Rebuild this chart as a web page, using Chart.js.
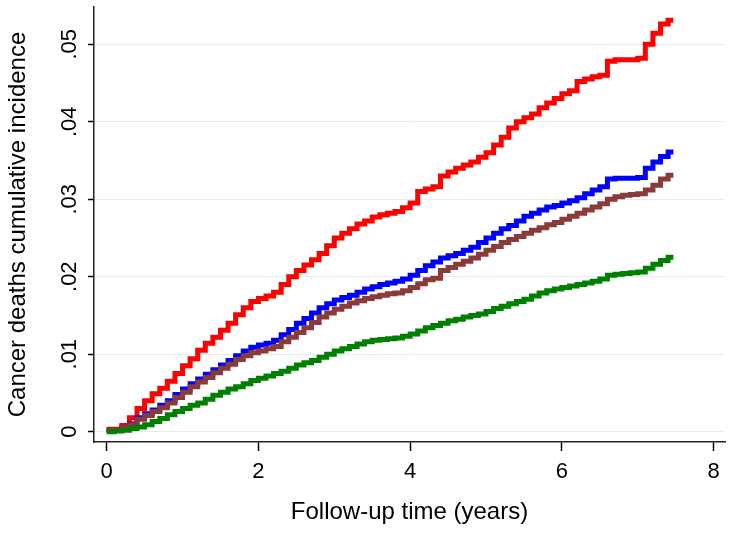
<!DOCTYPE html>
<html>
<head>
<meta charset="utf-8">
<script src="https://cdn.jsdelivr.net/npm/chart.js@4"></script>
<style>
  html, body { margin: 0; padding: 0; background: #ffffff; }
  #wrap { width: 734px; height: 534px; }
</style>
</head>
<body>
<div id="wrap"><canvas id="c" width="734" height="534"></canvas></div>
<script>
// Follow-up time (years) at which values were read (last = end of follow-up)
const times = [0.0, 0.1, 0.2, 0.3, 0.4, 0.5, 0.6, 0.7, 0.8, 0.9,
  1.0, 1.1, 1.2, 1.3, 1.4, 1.5, 1.6, 1.7, 1.8, 1.9,
  2.0, 2.1, 2.2, 2.3, 2.4, 2.5, 2.6, 2.7, 2.8, 2.9,
  3.0, 3.1, 3.2, 3.3, 3.4, 3.5, 3.6, 3.7, 3.8, 3.9,
  4.0, 4.1, 4.2, 4.3, 4.4, 4.5, 4.6, 4.7, 4.8, 4.9,
  5.0, 5.1, 5.2, 5.3, 5.4, 5.5, 5.6, 5.7, 5.8, 5.9,
  6.0, 6.1, 6.2, 6.3, 6.4, 6.5, 6.6, 6.7, 6.8, 6.9,
  7.0, 7.1, 7.2, 7.3, 7.4, 7.47];

const redSeries = [0.0003, 0.0003, 0.0008, 0.0018, 0.0030, 0.0040, 0.0049, 0.0056, 0.0065, 0.0075,
  0.0085, 0.0094, 0.0105, 0.0114, 0.0122, 0.0131, 0.0140, 0.0151, 0.0160, 0.0168,
  0.0172, 0.0175, 0.0180, 0.0190, 0.0200, 0.0208, 0.0215, 0.0222, 0.0230, 0.0240,
  0.0250, 0.0256, 0.0262, 0.0268, 0.0272, 0.0277, 0.0280, 0.0282, 0.0284, 0.0289,
  0.0295, 0.0310, 0.0313, 0.0316, 0.0330, 0.0335, 0.0340, 0.0344, 0.0348, 0.0354,
  0.0360, 0.0370, 0.0380, 0.0392, 0.0400, 0.0405, 0.0410, 0.0418, 0.0424, 0.0430,
  0.0436, 0.0440, 0.0452, 0.0455, 0.0458, 0.0460, 0.0478, 0.0480, 0.0480, 0.0480,
  0.0482, 0.0500, 0.0514, 0.0526, 0.0531, 0.0531];

const blueSeries = [0.0002, 0.0002, 0.0005, 0.0010, 0.0018, 0.0023, 0.0028, 0.0034, 0.0040, 0.0048,
  0.0055, 0.0062, 0.0068, 0.0074, 0.0080, 0.0086, 0.0092, 0.0098, 0.0104, 0.0109,
  0.0112, 0.0114, 0.0118, 0.0125, 0.0132, 0.0140, 0.0146, 0.0153, 0.0160, 0.0165,
  0.0170, 0.0173, 0.0176, 0.0180, 0.0184, 0.0187, 0.0190, 0.0192, 0.0194, 0.0197,
  0.0202, 0.0208, 0.0214, 0.0219, 0.0224, 0.0227, 0.0230, 0.0234, 0.0238, 0.0244,
  0.0250, 0.0256, 0.0262, 0.0266, 0.0272, 0.0278, 0.0282, 0.0286, 0.0290, 0.0292,
  0.0295, 0.0298, 0.0302, 0.0307, 0.0312, 0.0316, 0.0326, 0.0327, 0.0327, 0.0327,
  0.0328, 0.0340, 0.0348, 0.0355, 0.0361, 0.0361];

const brownSeries = [0.0002, 0.0002, 0.0005, 0.0009, 0.0016, 0.0021, 0.0026, 0.0031, 0.0037, 0.0044,
  0.0051, 0.0058, 0.0064, 0.0070, 0.0076, 0.0082, 0.0087, 0.0093, 0.0098, 0.0102,
  0.0104, 0.0107, 0.0110, 0.0116, 0.0122, 0.0128, 0.0134, 0.0141, 0.0148, 0.0153,
  0.0158, 0.0162, 0.0166, 0.0169, 0.0172, 0.0174, 0.0176, 0.0178, 0.0179, 0.0182,
  0.0186, 0.0191, 0.0196, 0.0198, 0.0208, 0.0212, 0.0216, 0.0220, 0.0224, 0.0229,
  0.0234, 0.0239, 0.0244, 0.0248, 0.0252, 0.0256, 0.0260, 0.0263, 0.0267, 0.0270,
  0.0274, 0.0278, 0.0282, 0.0286, 0.0290, 0.0294, 0.0300, 0.0303, 0.0305, 0.0306,
  0.0307, 0.0312, 0.0318, 0.0326, 0.0331, 0.0331];

const greenSeries = [0.0000, 0.0001, 0.0002, 0.0004, 0.0006, 0.0009, 0.0013, 0.0017, 0.0022, 0.0026,
  0.0030, 0.0034, 0.0037, 0.0042, 0.0047, 0.0051, 0.0055, 0.0058, 0.0062, 0.0066,
  0.0069, 0.0072, 0.0075, 0.0078, 0.0082, 0.0086, 0.0089, 0.0092, 0.0096, 0.0100,
  0.0104, 0.0107, 0.0110, 0.0113, 0.0116, 0.0118, 0.0119, 0.0120, 0.0121, 0.0123,
  0.0126, 0.0130, 0.0134, 0.0137, 0.0140, 0.0143, 0.0145, 0.0148, 0.0150, 0.0152,
  0.0155, 0.0159, 0.0162, 0.0165, 0.0168, 0.0171, 0.0175, 0.0179, 0.0182, 0.0184,
  0.0186, 0.0188, 0.0190, 0.0192, 0.0194, 0.0197, 0.0202, 0.0203, 0.0204, 0.0205,
  0.0206, 0.0211, 0.0216, 0.0221, 0.0225, 0.0225];

const xTickValues = [0, 2, 4, 6, 8];
const yTickLabels = ['0', '.01', '.02', '.03', '.04', '.05'];

const xTitle = 'Follow-up time (years)';
const yTitle = 'Cancer deaths cumulative incidence';

function pts(series) {
  return times.map((t, i) => ({ x: t, y: series[i] }));
}

const FONT = 'Arial, "Liberation Sans", sans-serif';

const rotatedYLabels = {
  id: 'rotatedYLabels',
  afterDraw(chart) {
    const ys = chart.scales.y;
    const ctx = chart.ctx;
    ctx.save();
    ctx.fillStyle = '#000000';
    ctx.font = '22px ' + FONT;
    ctx.textAlign = 'center';
    ctx.textBaseline = 'alphabetic';
    ys.ticks.forEach((tk, i) => {
      const py = ys.getPixelForValue(tk.value);
      ctx.save();
      ctx.translate(76, py);
      ctx.rotate(-Math.PI / 2);
      ctx.fillText(yTickLabels[i] !== undefined ? yTickLabels[i] : String(tk.value), 0, 0);
      ctx.restore();
    });
    ctx.restore();
  }
};

const mk = (label, series, color) => ({
  label: label,
  data: pts(series),
  borderColor: color,
  backgroundColor: color,
  borderWidth: 5,
  pointRadius: 0,
  stepped: true,
  fill: false,
  borderCapStyle: 'butt',
  borderJoinStyle: 'miter'
});

new Chart(document.getElementById('c'), {
  type: 'line',
  data: {
    datasets: [
      mk('green', greenSeries, '#008000'),
      mk('brown', brownSeries, '#8b3a3a'),
      mk('blue', blueSeries, '#0000ff'),
      mk('red', redSeries, '#ff0000')
    ]
  },
  options: {
    responsive: false,
    animation: false,
    devicePixelRatio: 1,
    layout: { padding: { top: 7, right: 9, left: 0, bottom: 0 } },
    plugins: { legend: { display: false }, tooltip: { enabled: false } },
    scales: {
      x: {
        type: 'linear',
        min: -0.167,
        max: 8.15,
        afterBuildTicks(scale) {
          scale.ticks = xTickValues.map(v => ({ value: v }));
        },
        afterFit(scale) { scale.height = 92; },
        ticks: {
          includeBounds: false,
          stepSize: 2,
          color: '#000000',
          font: { size: 22, family: FONT },
          padding: 8,
          maxRotation: 0,
          callback: v => String(v)
        },
        grid: {
          display: true,
          drawOnChartArea: false,
          drawTicks: true,
          tickLength: 9,
          tickColor: '#000000',
          tickWidth: 1.5
        },
        border: { display: true, color: '#222222', width: 1.5 },
        title: {
          display: true,
          text: xTitle,
          color: '#000000',
          font: { size: 24, family: FONT },
          padding: { top: 0, bottom: 7 }
        }
      },
      y: {
        type: 'linear',
        min: -0.00133,
        max: 0.0548,
        afterBuildTicks(scale) {
          scale.ticks = yTickLabels.map((s, i) => ({ value: i * 0.01 }));
        },
        afterFit(scale) { scale.width = 94; },
        ticks: { display: false, includeBounds: false, stepSize: 0.01 },
        grid: {
          display: true,
          drawOnChartArea: true,
          drawTicks: true,
          tickLength: 6,
          color: '#e6eef0',
          lineWidth: 1,
          tickColor: '#000000',
          tickWidth: 1.5
        },
        border: { display: true, color: '#222222', width: 1.5 },
        title: {
          display: true,
          text: yTitle,
          color: '#000000',
          font: { size: 24, family: FONT },
          padding: { top: 4, bottom: 0 }
        }
      }
    }
  },
  plugins: [rotatedYLabels]
});
</script>
</body>
</html>
